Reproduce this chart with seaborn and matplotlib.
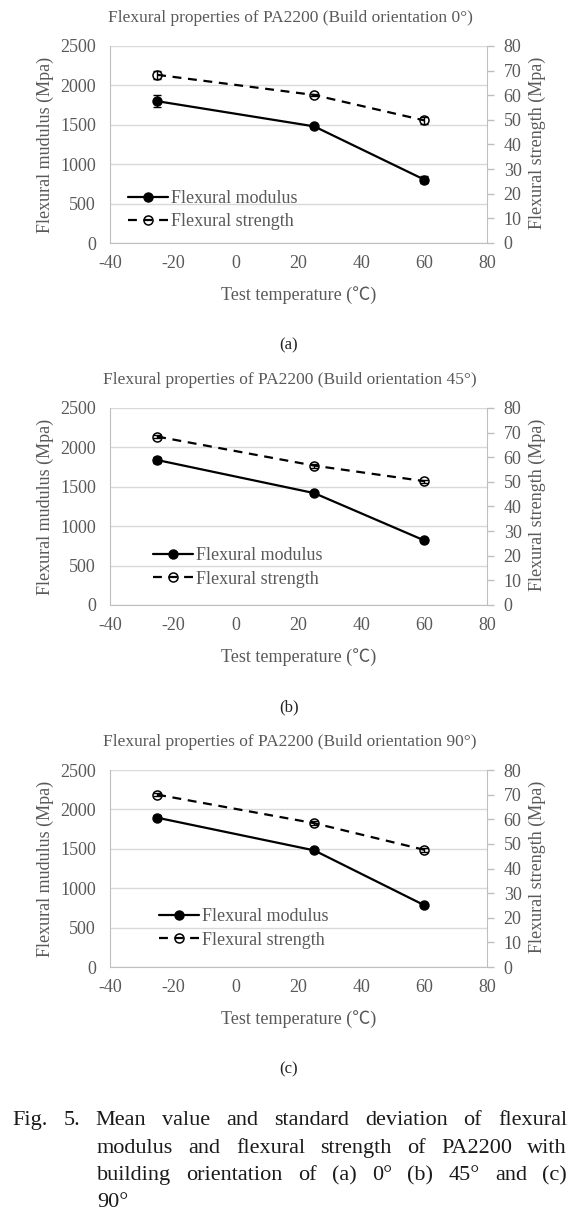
import pandas as pd
import seaborn as sns
import matplotlib.pyplot as plt

# data
temps = [-25, 25, 60]

mod_0 = [1800, 1480, 805]
mod_0_err = [75, 20, 40]
str_0 = [68.3, 60.1, 49.8]
str_0_err = [1.5, 0.6, 1.3]

mod_45 = [1840, 1420, 820]
mod_45_err = [40, 15, 15]
str_45 = [68.4, 56.6, 50.3]
str_45_err = [0.6, 0.8, 0.6]

mod_90 = [1895, 1480, 785]
mod_90_err = [35, 10, 10]
str_90 = [70.0, 58.4, 47.6]
str_90_err = [0.6, 0.8, 0.8]

orientations = ['0°', '45°', '90°']
tags = ['(a)', '(b)', '(c)']
x_ticks = [-40, -20, 0, 20, 40, 60, 80]
mod_ticks = [0, 500, 1000, 1500, 2000, 2500]
str_ticks = [0, 10, 20, 30, 40, 50, 60, 70, 80]

caption = [
    'Fig. 5. Mean value and standard deviation of flexural',
    'modulus and flexural strength of PA2200 with',
    'building orientation of (a) 0° (b) 45° and (c)',
    '90°',
]

mods = [mod_0, mod_45, mod_90]
mod_errs = [mod_0_err, mod_45_err, mod_90_err]
strs = [str_0, str_45, str_90]
str_errs = [str_0_err, str_45_err, str_90_err]

sns.set_style('white')
plt.rcParams['font.family'] = ['Liberation Serif', 'Noto Sans CJK SC', 'DejaVu Sans']
plt.rcParams['axes.unicode_minus'] = False

W, H = 587, 1226
GRAY = '#595959'
LINE = '#bfbfbf'
fig = plt.figure(figsize=(W / 100, H / 100), dpi=100)

leg_pos = [(0.048, 0.167), (0.114, 0.19), (0.13, 0.195)]

for i in range(3):
    off = i * 362
    top = 46 + off
    ax = fig.add_axes([110 / W, 1 - (top + 197) / H, 377 / W, 197 / H])
    ax2 = ax.twinx()
    df = pd.DataFrame({'temp': temps, 'mod': mods[i], 'str': strs[i]})

    # error bars
    ax.errorbar(temps, mods[i], yerr=mod_errs[i], fmt='none', ecolor='black',
                elinewidth=1, capsize=3, capthick=1, zorder=3)
    ax2.errorbar(temps, strs[i], yerr=str_errs[i], fmt='none', ecolor='black',
                 elinewidth=1, capsize=3, capthick=1, zorder=3)

    sns.lineplot(data=df, x='temp', y='mod', ax=ax, color='black', lw=1.6,
                 marker='o', ms=6.5, mec='black', mfc='black', mew=1,
                 label='Flexural modulus', zorder=4)
    sns.lineplot(data=df, x='temp', y='str', ax=ax2, color='black', lw=1.6,
                 ls=(0, (4, 3)), marker='o', ms=6.5, mec='black', mfc='none',
                 mew=1.1, label='Flexural strength', zorder=4)

    ax.set_xlim(-40, 80)
    ax.set_xticks(x_ticks)
    ax.set_ylim(0, 2500)
    ax.set_yticks(mod_ticks)
    ax2.set_ylim(0, 80)
    ax2.set_yticks(str_ticks)

    ax.grid(axis='y', color='#d9d9d9', lw=1)
    ax.set_axisbelow(True)
    for s in ['top', 'right']:
        ax.spines[s].set_visible(False)
    for s in ['top', 'left', 'bottom']:
        ax2.spines[s].set_visible(False)
    ax.spines['left'].set_color(LINE)
    ax.spines['bottom'].set_color(LINE)
    ax2.spines['right'].set_color(LINE)

    ax.tick_params(axis='x', length=0, pad=9, labelsize=13, labelcolor=GRAY)
    ax.tick_params(axis='y', length=0, pad=10, labelsize=13, labelcolor=GRAY)
    ax2.tick_params(axis='y', length=5, width=1, color=LINE, pad=7,
                    labelsize=13, labelcolor=GRAY)

    ax.set_xlabel('Test temperature (℃)', fontsize=13, color=GRAY, va='center')
    ax.xaxis.set_label_coords(0.5, -0.264)
    ax.set_ylabel('Flexural mudulus (Mpa)', fontsize=13, color=GRAY, va='center')
    ax.yaxis.set_label_coords(-0.172, 0.5)
    ax2.set_ylabel('Flexural strength (Mpa)', fontsize=13, color=GRAY,
                   va='center', rotation=90)
    ax2.yaxis.set_label_coords(1.133, 0.51)

    h1, l1 = ax.get_legend_handles_labels()
    h2, l2 = ax2.get_legend_handles_labels()
    if ax.get_legend():
        ax.get_legend().remove()
    ax2.legend(h1 + h2, l1 + l2, loc='center left', bbox_to_anchor=leg_pos[i],
               frameon=False, fontsize=13, handlelength=2.2, handletextpad=0.2,
               borderpad=0, borderaxespad=0, labelspacing=0.35, labelcolor=GRAY)

    fig.text(290 / W, 1 - (18 + off) / H,
             'Flexural properties of PA2200 (Build orientation ' + orientations[i] + ')',
             ha='center', va='center', fontsize=12.5, color=GRAY)
    fig.text(289 / W, 1 - (345 + off) / H, tags[i], ha='center', va='center',
             fontsize=12, color='#222222')

# justified caption
renderer = fig.canvas.get_renderer()
cap_x0 = [12, 97, 97, 97]
cap_base = [1125, 1153, 1180, 1207]
right = 567
for k, line in enumerate(caption):
    words = line.split(' ')
    objs = [fig.text(0, 1 - cap_base[k] / H, w, fontsize=16, color='#1a1a1a',
                     va='baseline', ha='left') for w in words]
    widths = [t.get_window_extent(renderer).width for t in objs]
    if len(words) > 1 and k < len(caption) - 1:
        gap = (right - cap_x0[k] - sum(widths)) / (len(words) - 1)
    else:
        gap = 6
    x = cap_x0[k]
    for t, w in zip(objs, widths):
        t.set_x(x / W)
        x += w + gap

fig.savefig('out.png', dpi=100)
